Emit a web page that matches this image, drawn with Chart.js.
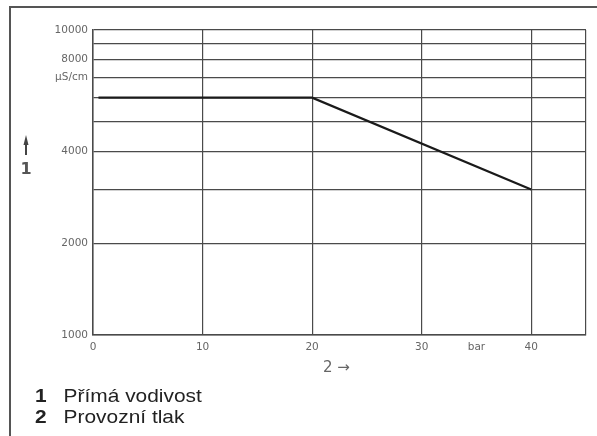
<!DOCTYPE html>
<html>
<head>
<meta charset="utf-8">
<script src="https://cdn.jsdelivr.net/npm/chart.js@4/dist/chart.umd.min.js"></script>
<style>
  html, body { margin:0; padding:0; background:#fff; }
  #wrap { position:relative; width:597px; height:436px; overflow:hidden; }
  #frame { position:absolute; left:9px; top:6px; width:600px; height:440px; border-left:2px solid #555; border-top:2px solid #555; }
  canvas { position:absolute; left:0; top:0; }
  .leg { position:absolute; left:35px; font-family:"Liberation Sans", Arial, sans-serif; font-size:19px; color:#222; white-space:nowrap; transform-origin:0 0; transform:scaleX(1.1); }
  .leg b { display:inline-block; width:26px; }
</style>
</head>
<body>
<div id="wrap">
  <div id="frame"></div>
  <canvas id="c" width="597" height="436"></canvas>
  <div class="leg" style="top:385px;"><b>1</b>Přímá vodivost</div>
  <div class="leg" style="top:406px;"><b>2</b>Provozní tlak</div>
</div>
<script>
// ---- data ----
const pressure = [0.5, 20, 40];            // bar
const conductivity = [6000, 6000, 3000];   // µS/cm
const xTicks = [0, 10, 20, 30, 35, 40, 45];
const xTickLabels = ['0', '10', '20', '30', 'bar', '40', ''];
const yTicks = [1000, 2000, 3000, 4000, 5000, 6000, 7000, 8000, 9000, 10000];
const yTickLabels = ['1000', '2000', '', '4000', '', '', 'µS/cm', '8000', '', '10000'];
const yAxisTitle = ['↑', '1'];
const xAxisTitle = '2 →';

const tickFont = { family: 'DejaVu Sans', size: 10.5 };
const gridCol = '#4a4a4a';
const labelCol = '#666';

const titlesPlugin = {
  id: 'titles',
  afterDraw(chart) {
    const ctx = chart.ctx;
    const ca = chart.chartArea;
    ctx.save();
    ctx.fillStyle = '#444';
    ctx.strokeStyle = '#444';
    // upward arrow
    ctx.lineWidth = 2;
    ctx.beginPath(); ctx.moveTo(26, 155); ctx.lineTo(26, 142); ctx.stroke();
    ctx.beginPath(); ctx.moveTo(26, 135); ctx.lineTo(23.5, 145); ctx.lineTo(28.5, 145); ctx.closePath(); ctx.fill();
    ctx.textAlign = 'center';
    ctx.textBaseline = 'middle';
    ctx.fillStyle = '#555';
    ctx.font = 'bold 16px "DejaVu Sans"';
    ctx.fillText(yAxisTitle[1], 26, 170);
    ctx.font = '15px "DejaVu Sans"';
    ctx.fillStyle = '#666';
    ctx.fillText(xAxisTitle, (ca.left + ca.right) / 2 - 3, 368);
    ctx.restore();
  }
};

new Chart(document.getElementById('c'), {
  type: 'line',
  data: {
    datasets: [{
      data: pressure.map((p, i) => ({ x: p, y: conductivity[i] })),
      borderColor: '#1a1a1a',
      borderWidth: 2.2,
      pointRadius: 0,
      tension: 0,
      fill: false
    }]
  },
  options: {
    responsive: false,
    animation: false,
    layout: { padding: { left: 0, top: 30, right: 11, bottom: 0 } },
    plugins: { legend: { display: false }, tooltip: { enabled: false } },
    scales: {
      x: {
        type: 'linear',
        min: 0, max: 45,
        afterBuildTicks: s => { s.ticks = xTicks.map(v => ({ value: v })); },
        afterFit: s => { s.height = 101; },
        ticks: {
          autoSkip: false, maxRotation: 0, padding: 6,
          color: labelCol, font: tickFont,
          callback: (v) => { const i = xTicks.indexOf(v); return i >= 0 ? xTickLabels[i] : ''; }
        },
        grid: {
          drawTicks: false,
          color: c => (c.tick && c.tick.value === 35) ? 'rgba(0,0,0,0)' : gridCol,
          lineWidth: 1.2
        },
        border: { color: gridCol, width: 1.5 }
      },
      y: {
        type: 'logarithmic',
        min: 1000, max: 10000,
        afterBuildTicks: s => { s.ticks = yTicks.map(v => ({ value: v })); },
        afterFit: s => { s.width = 93; },
        ticks: {
          autoSkip: false, padding: 5,
          color: labelCol, font: tickFont,
          callback: (v) => { const i = yTicks.indexOf(v); return i >= 0 ? yTickLabels[i] : ''; }
        },
        grid: { drawTicks: false, color: gridCol, lineWidth: 1.2 },
        border: { color: gridCol, width: 1.5 }
      }
    }
  },
  plugins: [titlesPlugin]
});
</script>
</body>
</html>
